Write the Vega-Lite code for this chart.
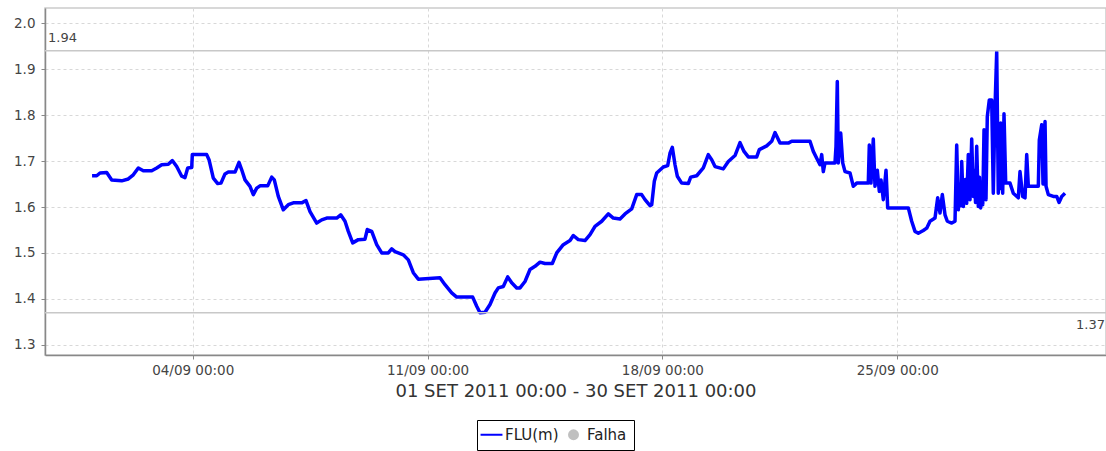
{
  "$schema": "https://vega.github.io/schema/vega-lite/v6.json",
  "width": 1061,
  "height": 347,
  "autosize": {"type": "none"},
  "padding": {"left": 45, "top": 8, "right": 0, "bottom": 96},
  "config": {
    "font": "DejaVu Sans",
    "view": {"stroke": "#cccccc", "strokeWidth": 1.5},
    "axis": {
      "domainColor": "#888888",
      "domainWidth": 1.5,
      "tickColor": "#888888",
      "tickSize": 4,
      "labelColor": "#444444",
      "labelFontSize": 13.5,
      "labelFont": "DejaVu Sans",
      "gridColor": "#d8d8d8",
      "gridDash": [3, 3],
      "gridWidth": 1
    }
  },
  "layer": [
    {
      "data": {"values": [
        {"t":"2011-09-01T00:00","v":1.668},{"t":"2011-09-01T03:20","v":1.668},{"t":"2011-09-01T05:41","v":1.674},{"t":"2011-09-01T10:29","v":1.675},{"t":"2011-09-01T14:04","v":1.659},{"t":"2011-09-01T21:13","v":1.657},{"t":"2011-09-02T01:56","v":1.661},{"t":"2011-09-02T05:31","v":1.670},{"t":"2011-09-02T09:05","v":1.685},{"t":"2011-09-02T12:40","v":1.679},{"t":"2011-09-02T18:40","v":1.679},{"t":"2011-09-02T22:15","v":1.685},{"t":"2011-09-03T01:49","v":1.692},{"t":"2011-09-03T06:33","v":1.693},{"t":"2011-09-03T09:25","v":1.701},{"t":"2011-09-03T12:33","v":1.688},{"t":"2011-09-03T16:08","v":1.667},{"t":"2011-09-03T18:29","v":1.664},{"t":"2011-09-03T20:25","v":1.685},{"t":"2011-09-03T23:17","v":1.686},{"t":"2011-09-03T23:43","v":1.714},{"t":"2011-09-04T10:01","v":1.714},{"t":"2011-09-04T11:40","v":1.703},{"t":"2011-09-04T14:44","v":1.663},{"t":"2011-09-04T17:53","v":1.651},{"t":"2011-09-04T20:14","v":1.652},{"t":"2011-09-04T23:06","v":1.672},{"t":"2011-09-05T01:28","v":1.676},{"t":"2011-09-05T06:16","v":1.676},{"t":"2011-09-05T09:07","v":1.697},{"t":"2011-09-05T11:03","v":1.681},{"t":"2011-09-05T13:25","v":1.659},{"t":"2011-09-05T16:59","v":1.645},{"t":"2011-09-05T19:21","v":1.627},{"t":"2011-09-05T21:47","v":1.641},{"t":"2011-09-06T00:08","v":1.646},{"t":"2011-09-06T05:39","v":1.646},{"t":"2011-09-06T08:31","v":1.665},{"t":"2011-09-06T10:22","v":1.659},{"t":"2011-09-06T13:14","v":1.623},{"t":"2011-09-06T16:49","v":1.594},{"t":"2011-09-06T20:23","v":1.605},{"t":"2011-09-06T23:58","v":1.609},{"t":"2011-09-07T05:58","v":1.609},{"t":"2011-09-07T09:03","v":1.614},{"t":"2011-09-07T11:55","v":1.590},{"t":"2011-09-07T16:42","v":1.565},{"t":"2011-09-07T20:17","v":1.572},{"t":"2011-09-07T23:51","v":1.576},{"t":"2011-09-08T07:01","v":1.576},{"t":"2011-09-08T09:52","v":1.583},{"t":"2011-09-08T12:57","v":1.569},{"t":"2011-09-08T15:19","v":1.547},{"t":"2011-09-08T18:27","v":1.522},{"t":"2011-09-08T22:28","v":1.529},{"t":"2011-09-09T03:15","v":1.530},{"t":"2011-09-09T04:54","v":1.551},{"t":"2011-09-09T08:03","v":1.547},{"t":"2011-09-09T11:37","v":1.518},{"t":"2011-09-09T15:12","v":1.500},{"t":"2011-09-09T19:55","v":1.500},{"t":"2011-09-09T22:21","v":1.509},{"t":"2011-09-10T00:43","v":1.503},{"t":"2011-09-10T06:39","v":1.496},{"t":"2011-09-10T10:14","v":1.485},{"t":"2011-09-10T13:48","v":1.457},{"t":"2011-09-10T17:23","v":1.443},{"t":"2011-09-11T08:54","v":1.446},{"t":"2011-09-11T12:29","v":1.431},{"t":"2011-09-11T17:17","v":1.413},{"t":"2011-09-11T20:51","v":1.404},{"t":"2011-09-12T08:18","v":1.404},{"t":"2011-09-12T11:10","v":1.384},{"t":"2011-09-12T13:31","v":1.370},{"t":"2011-09-12T17:06","v":1.371},{"t":"2011-09-12T20:41","v":1.388},{"t":"2011-09-13T00:15","v":1.413},{"t":"2011-09-13T02:37","v":1.424},{"t":"2011-09-13T06:11","v":1.427},{"t":"2011-09-13T09:20","v":1.448},{"t":"2011-09-13T12:12","v":1.435},{"t":"2011-09-13T15:46","v":1.424},{"t":"2011-09-13T18:08","v":1.424},{"t":"2011-09-13T21:43","v":1.438},{"t":"2011-09-14T01:17","v":1.464},{"t":"2011-09-14T04:52","v":1.471},{"t":"2011-09-14T08:26","v":1.480},{"t":"2011-09-14T12:01","v":1.477},{"t":"2011-09-14T17:14","v":1.477},{"t":"2011-09-14T20:23","v":1.500},{"t":"2011-09-15T01:07","v":1.518},{"t":"2011-09-15T05:54","v":1.527},{"t":"2011-09-15T08:16","v":1.538},{"t":"2011-09-15T11:50","v":1.529},{"t":"2011-09-15T16:38","v":1.527},{"t":"2011-09-15T20:13","v":1.540},{"t":"2011-09-15T23:47","v":1.558},{"t":"2011-09-16T04:35","v":1.569},{"t":"2011-09-16T09:18","v":1.585},{"t":"2011-09-16T12:53","v":1.576},{"t":"2011-09-16T17:40","v":1.574},{"t":"2011-09-16T21:15","v":1.585},{"t":"2011-09-17T02:02","v":1.596},{"t":"2011-09-17T05:37","v":1.627},{"t":"2011-09-17T09:11","v":1.627},{"t":"2011-09-17T11:33","v":1.616},{"t":"2011-09-17T15:08","v":1.603},{"t":"2011-09-17T16:21","v":1.605},{"t":"2011-09-17T18:13","v":1.656},{"t":"2011-09-17T19:55","v":1.674},{"t":"2011-09-18T00:38","v":1.687},{"t":"2011-09-18T03:47","v":1.690},{"t":"2011-09-18T05:26","v":1.717},{"t":"2011-09-18T07:05","v":1.730},{"t":"2011-09-18T09:01","v":1.692},{"t":"2011-09-18T10:40","v":1.667},{"t":"2011-09-18T13:49","v":1.652},{"t":"2011-09-18T18:32","v":1.651},{"t":"2011-09-18T20:15","v":1.665},{"t":"2011-09-19T00:32","v":1.668},{"t":"2011-09-19T05:16","v":1.685},{"t":"2011-09-19T08:50","v":1.714},{"t":"2011-09-19T11:16","v":1.703},{"t":"2011-09-19T13:38","v":1.688},{"t":"2011-09-19T19:34","v":1.683},{"t":"2011-09-19T23:09","v":1.699},{"t":"2011-09-20T03:56","v":1.712},{"t":"2011-09-20T07:31","v":1.740},{"t":"2011-09-20T10:23","v":1.721},{"t":"2011-09-20T13:27","v":1.709},{"t":"2011-09-20T19:28","v":1.709},{"t":"2011-09-20T21:19","v":1.725},{"t":"2011-09-21T02:37","v":1.733},{"t":"2011-09-21T06:11","v":1.743},{"t":"2011-09-21T08:33","v":1.762},{"t":"2011-09-21T12:08","v":1.739},{"t":"2011-09-21T18:04","v":1.739},{"t":"2011-09-21T20:30","v":1.743},{"t":"2011-09-22T09:35","v":1.743},{"t":"2011-09-22T11:57","v":1.721},{"t":"2011-09-22T14:23","v":1.706},{"t":"2011-09-22T16:44","v":1.692},{"t":"2011-09-22T17:58","v":1.714},{"t":"2011-09-22T19:06","v":1.677},{"t":"2011-09-22T20:19","v":1.696},{"t":"2011-09-23T03:28","v":1.696},{"t":"2011-09-23T04:11","v":1.732},{"t":"2011-09-23T05:07","v":1.873},{"t":"2011-09-23T05:50","v":1.696},{"t":"2011-09-23T07:33","v":1.761},{"t":"2011-09-23T08:59","v":1.696},{"t":"2011-09-23T10:38","v":1.677},{"t":"2011-09-23T14:12","v":1.674},{"t":"2011-09-23T16:34","v":1.645},{"t":"2011-09-23T19:00","v":1.652},{"t":"2011-09-24T03:17","v":1.652},{"t":"2011-09-24T04:01","v":1.735},{"t":"2011-09-24T05:13","v":1.652},{"t":"2011-09-24T06:52","v":1.748},{"t":"2011-09-24T08:05","v":1.645},{"t":"2011-09-24T09:44","v":1.680},{"t":"2011-09-24T11:10","v":1.634},{"t":"2011-09-24T12:23","v":1.659},{"t":"2011-09-24T14:01","v":1.616},{"t":"2011-09-24T15:58","v":1.680},{"t":"2011-09-24T17:10","v":1.598},{"t":"2011-09-25T07:55","v":1.598},{"t":"2011-09-25T10:20","v":1.569},{"t":"2011-09-25T12:42","v":1.547},{"t":"2011-09-25T15:04","v":1.543},{"t":"2011-09-25T18:38","v":1.549},{"t":"2011-09-25T21:04","v":1.554},{"t":"2011-09-25T23:26","v":1.569},{"t":"2011-09-26T03:01","v":1.576},{"t":"2011-09-26T04:56","v":1.620},{"t":"2011-09-26T06:35","v":1.587},{"t":"2011-09-26T08:14","v":1.627},{"t":"2011-09-26T10:10","v":1.583},{"t":"2011-09-26T11:49","v":1.569},{"t":"2011-09-26T14:58","v":1.565},{"t":"2011-09-26T17:19","v":1.569},{"t":"2011-09-26T18:32","v":1.735},{"t":"2011-09-26T19:41","v":1.594},{"t":"2011-09-26T20:50","v":1.650},{"t":"2011-09-26T21:20","v":1.603},{"t":"2011-09-26T22:07","v":1.699},{"t":"2011-09-26T23:16","v":1.601},{"t":"2011-09-27T00:41","v":1.660},{"t":"2011-09-27T01:40","v":1.608},{"t":"2011-09-27T02:50","v":1.714},{"t":"2011-09-27T04:03","v":1.616},{"t":"2011-09-27T05:16","v":1.748},{"t":"2011-09-27T06:25","v":1.623},{"t":"2011-09-27T07:20","v":1.680},{"t":"2011-09-27T08:00","v":1.610},{"t":"2011-09-27T08:50","v":1.732},{"t":"2011-09-27T09:59","v":1.601},{"t":"2011-09-27T10:50","v":1.665},{"t":"2011-09-27T11:40","v":1.598},{"t":"2011-09-27T12:25","v":1.640},{"t":"2011-09-27T13:10","v":1.605},{"t":"2011-09-27T14:04","v":1.768},{"t":"2011-09-27T15:29","v":1.616},{"t":"2011-09-27T15:55","v":1.700},{"t":"2011-09-27T16:25","v":1.797},{"t":"2011-09-27T17:51","v":1.833},{"t":"2011-09-27T19:34","v":1.833},{"t":"2011-09-27T20:43","v":1.630},{"t":"2011-09-27T21:56","v":1.815},{"t":"2011-09-27T23:09","v":1.938},{"t":"2011-09-28T00:17","v":1.630},{"t":"2011-09-28T01:00","v":1.700},{"t":"2011-09-28T01:30","v":1.640},{"t":"2011-09-28T02:01","v":1.783},{"t":"2011-09-28T03:26","v":1.630},{"t":"2011-09-28T04:22","v":1.803},{"t":"2011-09-28T05:35","v":1.652},{"t":"2011-09-28T08:40","v":1.652},{"t":"2011-09-28T11:01","v":1.630},{"t":"2011-09-28T14:36","v":1.620},{"t":"2011-09-28T15:49","v":1.677},{"t":"2011-09-28T17:45","v":1.623},{"t":"2011-09-28T19:24","v":1.620},{"t":"2011-09-28T20:37","v":1.714},{"t":"2011-09-28T21:46","v":1.645},{"t":"2011-09-29T04:55","v":1.645},{"t":"2011-09-29T05:38","v":1.746},{"t":"2011-09-29T07:21","v":1.779},{"t":"2011-09-29T08:17","v":1.650},{"t":"2011-09-29T09:43","v":1.786},{"t":"2011-09-29T10:26","v":1.645},{"t":"2011-09-29T12:04","v":1.627},{"t":"2011-09-29T15:39","v":1.623},{"t":"2011-09-29T18:05","v":1.623},{"t":"2011-09-29T19:44","v":1.610},{"t":"2011-09-29T21:40","v":1.623},{"t":"2011-09-30T00:01","v":1.630}
      ]},
      "mark": {"type": "line", "strokeWidth": 3.5, "strokeJoin": "round"},
      "encoding": {
        "x": {
          "field": "t", "type": "temporal",
          "scale": {"domain": [
            {"year": 2011, "month": 8, "date": 30, "hours": 14, "minutes": 20},
            {"year": 2011, "month": 10, "date": 1, "hours": 5, "minutes": 20}
          ]},
          "axis": {
            "values": [
              {"year": 2011, "month": 9, "date": 4},
              {"year": 2011, "month": 9, "date": 11},
              {"year": 2011, "month": 9, "date": 18},
              {"year": 2011, "month": 9, "date": 25}
            ],
            "format": "%d/%m %H:%M",
            "labelPadding": 4,
            "title": "01 SET 2011 00:00 - 30 SET 2011 00:00",
            "titleFontSize": 18,
            "titleFontWeight": "normal",
            "titleColor": "#333333",
            "titlePadding": 6
          }
        },
        "y": {
          "field": "v", "type": "quantitative",
          "scale": {"domain": [1.278, 2.033], "nice": false, "zero": false},
          "axis": {
            "values": [1.3, 1.4, 1.5, 1.6, 1.7, 1.8, 1.9, 2.0],
            "format": ".1f",
            "title": null,
            "labelPadding": 6
          }
        },
        "color": {
          "datum": "FLU(m)", "type": "nominal",
          "scale": {"domain": ["FLU(m)", "Falha"], "range": ["#0000ff", "#c0c0c0"]},
          "legend": {
            "orient": "none",
            "legendX": 432,
            "legendY": 412,
            "direction": "horizontal",
            "title": null,
            "strokeColor": "#000000",
            "padding": 7,
            "labelFontSize": 15,
            "labelColor": "#222222",
            "labelFont": "DejaVu Sans",
            "columnPadding": 7,
            "labelOffset": 6,
            "symbolStrokeWidth": 2,
            "encode": {
              "symbols": {
                "update": {
                  "shape": {"signal": "datum.value === 'Falha' ? 'circle' : 'stroke'"},
                  "size": {"signal": "datum.value === 'Falha' ? 120 : 480"},
                  "fill": {"signal": "datum.value === 'Falha' ? '#c0c0c0' : 'transparent'"},
                  "stroke": {"signal": "datum.value === 'Falha' ? '#c0c0c0' : '#0000ff'"},
                  "strokeWidth": {"signal": "datum.value === 'Falha' ? 0 : 2"}
                }
              }
            }
          }
        }
      }
    },
    {
      "data": {"values": [{"v": 1.94}, {"v": 1.37}]},
      "mark": {"type": "rule", "color": "#c8c8c8", "strokeWidth": 1.5},
      "encoding": {"y": {"field": "v", "type": "quantitative"}}
    },
    {
      "data": {"values": [{"v": 1.94, "lab": "1.94"}]},
      "mark": {"type": "text", "align": "left", "baseline": "bottom", "dx": 3, "dy": -6, "fontSize": 13, "color": "#444444", "font": "DejaVu Sans"},
      "encoding": {
        "x": {"datum": {"year": 2011, "month": 8, "date": 30, "hours": 14, "minutes": 20}, "type": "temporal"},
        "y": {"field": "v", "type": "quantitative"},
        "text": {"field": "lab"}
      }
    },
    {
      "data": {"values": [{"v": 1.37, "lab": "1.37"}]},
      "mark": {"type": "text", "align": "right", "baseline": "top", "dx": -1, "dy": 6, "fontSize": 13, "color": "#444444", "font": "DejaVu Sans"},
      "encoding": {
        "x": {"datum": {"year": 2011, "month": 10, "date": 1, "hours": 5, "minutes": 20}, "type": "temporal"},
        "y": {"field": "v", "type": "quantitative"},
        "text": {"field": "lab"}
      }
    }
  ]
}
